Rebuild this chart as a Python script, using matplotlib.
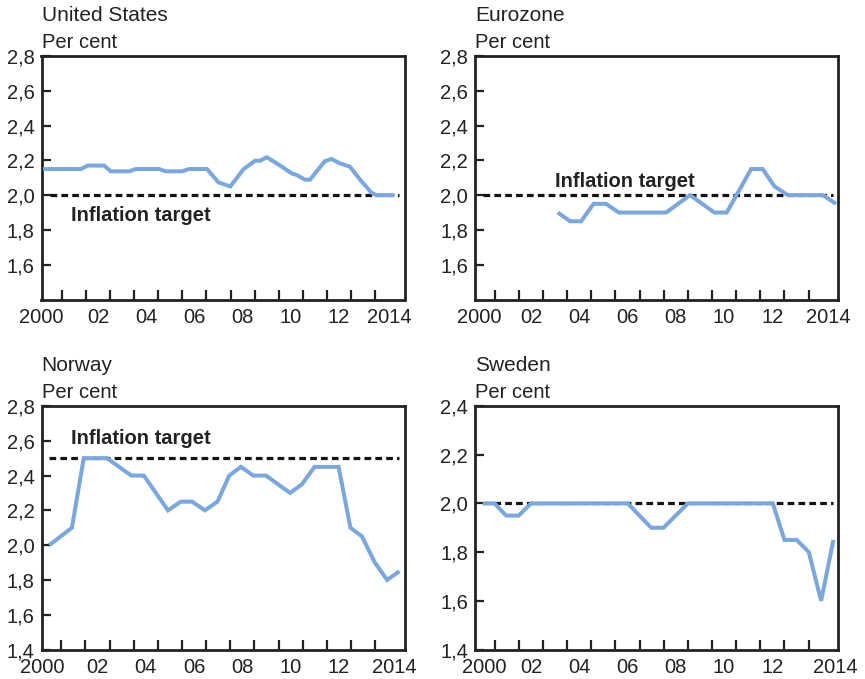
import matplotlib
matplotlib.use("Agg")
import matplotlib.pyplot as plt

plt.rcParams['font.family'] = ['Liberation Sans', 'DejaVu Sans']

# Inflation expectations, per cent
us_x = [2000.21, 2001.79, 2002.07, 2002.75, 2003.03, 2003.79, 2004.06, 2005.03,
        2005.30, 2005.99, 2006.27, 2007.02, 2007.50, 2007.99, 2008.54, 2009.02,
        2009.23, 2009.50, 2010.06, 2010.54, 2010.74, 2011.09, 2011.30, 2011.91,
        2012.19, 2012.53, 2012.95, 2013.36, 2013.84, 2014.05, 2014.81]
us_y = [2.15, 2.15, 2.17, 2.17, 2.137, 2.137, 2.15, 2.15,
        2.137, 2.137, 2.15, 2.15, 2.073, 2.05, 2.15, 2.198,
        2.198, 2.218, 2.17, 2.125, 2.116, 2.089, 2.089, 2.195,
        2.208, 2.183, 2.164, 2.092, 2.015, 2.0, 2.0]
us_target = 2.0

ez_x = [2003.61, 2004.12, 2004.58, 2005.09, 2005.61, 2006.14, 2008.10, 2009.09,
        2010.10, 2010.61, 2011.62, 2012.10, 2012.59, 2013.14, 2014.59, 2015.14]
ez_y = [1.90, 1.85, 1.85, 1.95, 1.95, 1.90, 1.90, 2.00,
        1.90, 1.90, 2.15, 2.15, 2.05, 2.00, 2.00, 1.95]
ez_target = 2.0

no_x = [2000.50, 2001.44, 2001.93, 2002.89, 2003.90, 2004.42, 2005.42, 2005.95,
        2006.42, 2006.95, 2007.47, 2007.96, 2008.44, 2008.96, 2009.48, 2010.48,
        2010.97, 2011.49, 2012.49, 2012.98, 2013.46, 2013.99, 2014.50, 2015.01]
no_y = [2.00, 2.10, 2.50, 2.50, 2.40, 2.40, 2.20, 2.25,
        2.25, 2.20, 2.25, 2.40, 2.45, 2.40, 2.40, 2.30,
        2.35, 2.45, 2.45, 2.10, 2.05, 1.90, 1.80, 1.85]
no_target = 2.5

se_x = [2000.50, 2000.99, 2001.47, 2001.99, 2002.50, 2006.51, 2007.48, 2007.99,
        2009.00, 2012.52, 2013.00, 2013.51, 2014.01, 2014.52, 2015.03]
se_y = [2.00, 2.00, 1.95, 1.95, 2.00, 2.00, 1.90, 1.90,
        2.00, 2.00, 1.85, 1.85, 1.80, 1.60, 1.85]
se_target = 2.0

year_labels = ['2000', '02', '04', '06', '08', '10', '12', '2014']

BLUE = '#7ba7dc'
INK = '#222222'
FS = 14.5

W, H = 865, 679
fig = plt.figure(figsize=(W / 100, H / 100), dpi=100)


def comma(v, _pos=None):
    return f"{v:.1f}".replace('.', ',')


def panel(left, top, title, xs, ys, target, ylim, yticks, label_ends,
          note=None):
    ax = fig.add_axes([left / W, 1 - (top + 243.5) / H, 363 / W, 243.5 / H])
    ax.set_xlim(2000.18, 2015.22)
    ax.set_ylim(*ylim)

    ax.plot([2000.5, 2015.0], [target, target], color='#141414', lw=2.3,
            dashes=(2.1, 1.3), dash_capstyle='butt', zorder=2)
    ax.plot(xs, ys, color=BLUE, lw=2.9, solid_joinstyle='miter',
            solid_capstyle='butt', zorder=3)

    for s in ax.spines.values():
        s.set_linewidth(2.0)
        s.set_color(INK)

    ax.set_yticks(yticks)
    ax.yaxis.set_major_formatter(comma)
    ax.tick_params(axis='y', direction='in', length=6.5, width=1.6,
                   colors=INK, labelsize=FS, pad=5)

    ax.set_xticks(range(2001, 2015))
    ax.set_xticklabels([])
    ax.tick_params(axis='x', which='major', direction='in', length=7,
                   width=1.6, colors=INK)
    mids = [label_ends[0]] + [y + 0.5 for y in range(2002, 2014, 2)] + [label_ends[1]]
    ax.set_xticks(mids, minor=True)
    ax.set_xticklabels(year_labels, minor=True)
    ax.tick_params(axis='x', which='minor', length=0, labelsize=FS,
                   colors=INK, pad=6)

    fig.text(left / W, 1 - (top - 35) / H, title, fontsize=FS + 0.5,
             color=INK, va='baseline', ha='left')
    fig.text(left / W, 1 - (top - 7.5) / H, 'Per cent', fontsize=FS,
             color=INK, va='baseline', ha='left')

    if note is not None:
        ax.text(note[0], note[1], 'Inflation target', fontsize=FS,
                fontweight='bold', color=INK, va='baseline', ha='left')
    return ax


panel(41.5, 56, 'United States', us_x, us_y, us_target, (1.4, 2.8),
      [1.6, 1.8, 2.0, 2.2, 2.4, 2.6, 2.8], (2000.15, 2014.6),
      note=(2001.39, 1.851))
panel(475, 56, 'Eurozone', ez_x, ez_y, ez_target, (1.4, 2.8),
      [1.6, 1.8, 2.0, 2.2, 2.4, 2.6, 2.8], (2000.35, 2014.8),
      note=(2003.49, 2.048))
panel(41.5, 406, 'Norway', no_x, no_y, no_target, (1.4, 2.8),
      [1.4, 1.6, 1.8, 2.0, 2.2, 2.4, 2.6, 2.8], (2000.2, 2014.8),
      note=(2001.4, 2.582))
panel(475, 406, 'Sweden', se_x, se_y, se_target, (1.4, 2.4),
      [1.4, 1.6, 1.8, 2.0, 2.2, 2.4], (2000.55, 2015.1))

fig.savefig('out.png', dpi=100)
